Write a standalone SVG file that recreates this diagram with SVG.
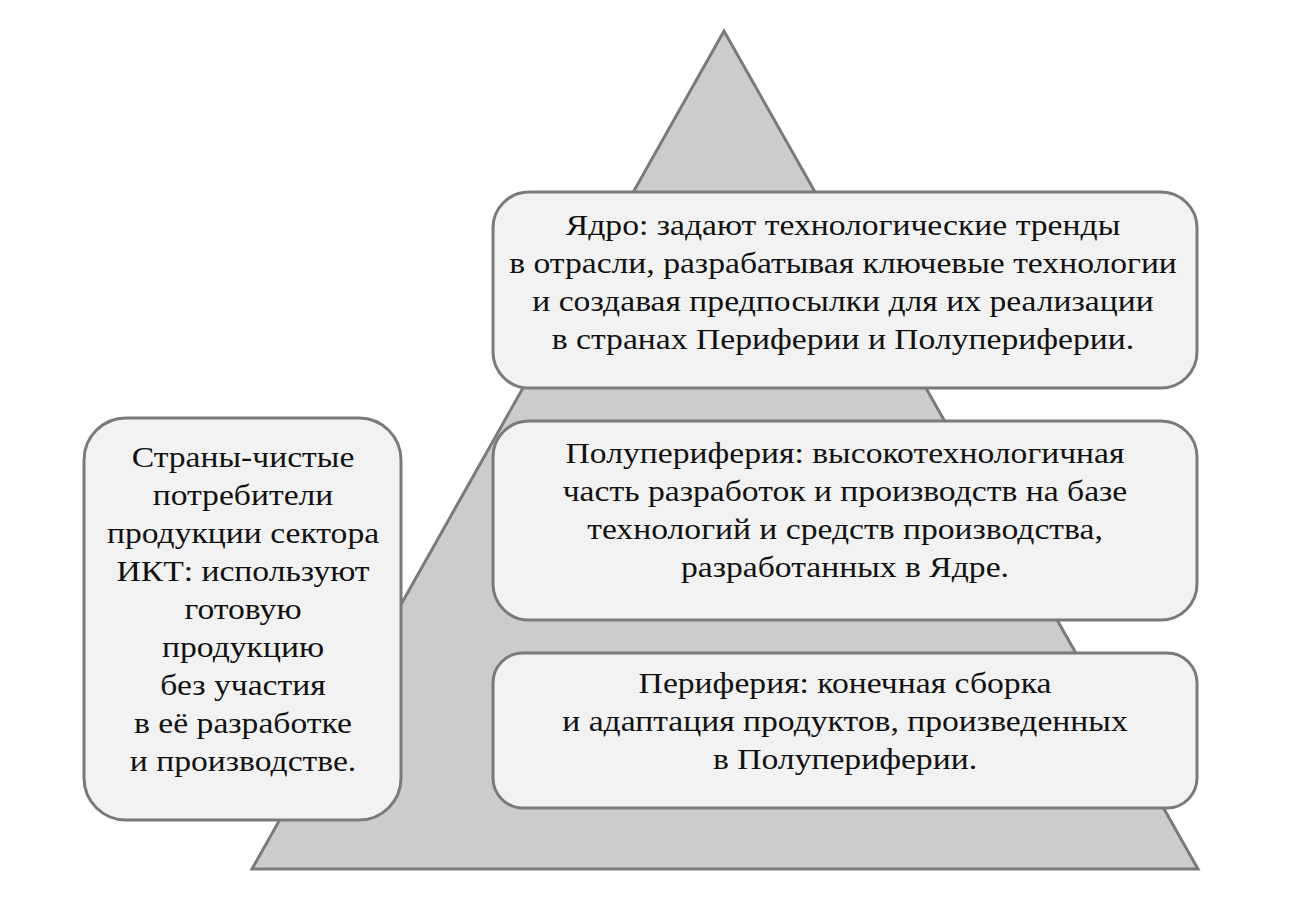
<svg xmlns="http://www.w3.org/2000/svg" width="1309" height="924" viewBox="0 0 1309 924">
<style>
.box{fill:#f2f2f2;stroke:#7a7a7a;stroke-width:3}
.t{font-family:'Liberation Serif','Times New Roman',serif;font-size:29px;fill:#111;text-anchor:middle}
</style>
<rect width="1309" height="924" fill="#ffffff"/>
<g id="pyramid">
<polygon points="724,31 1198,869 252,869" fill="#cccccc" stroke="#7a7a7a" stroke-width="3" stroke-linejoin="miter"/>
</g>
<g id="connectors"></g>
<g id="core">
<rect class="box" x="493" y="192" width="704" height="196" rx="36"/>
<text class="t" transform="translate(843 0) scale(1.16 1)"><tspan x="0" y="235">Ядро: задают технологические тренды</tspan><tspan x="0" y="273">в отрасли, разрабатывая ключевые технологии</tspan><tspan x="0" y="311">и создавая предпосылки для их реализации</tspan><tspan x="0" y="349">в странах Периферии и Полупериферии.</tspan></text>
</g>
<g id="semiperiphery">
<rect class="box" x="493" y="421" width="704" height="199" rx="36"/>
<text class="t" transform="translate(845 0) scale(1.16 1)"><tspan x="0" y="463">Полупериферия: высокотехнологичная</tspan><tspan x="0" y="501">часть разработок и производств на базе</tspan><tspan x="0" y="539">технологий и средств производства,</tspan><tspan x="0" y="577">разработанных в Ядре.</tspan></text>
</g>
<g id="periphery">
<rect class="box" x="493" y="653" width="704" height="155" rx="30"/>
<text class="t" transform="translate(845 0) scale(1.16 1)"><tspan x="0" y="693">Периферия: конечная сборка</tspan><tspan x="0" y="731">и адаптация продуктов, произведенных</tspan><tspan x="0" y="769">в Полупериферии.</tspan></text>
</g>
<g id="consumers">
<rect class="box" x="84" y="418" width="317" height="402" rx="42"/>
<text class="t" transform="translate(243 0) scale(1.16 1)"><tspan x="0" y="467">Страны-чистые</tspan><tspan x="0" y="505">потребители</tspan><tspan x="0" y="543">продукции сектора</tspan><tspan x="0" y="581">ИКТ: используют</tspan><tspan x="0" y="619">готовую</tspan><tspan x="0" y="657">продукцию</tspan><tspan x="0" y="695">без участия</tspan><tspan x="0" y="733">в её разработке</tspan><tspan x="0" y="771">и производстве.</tspan></text>
</g>
</svg>
